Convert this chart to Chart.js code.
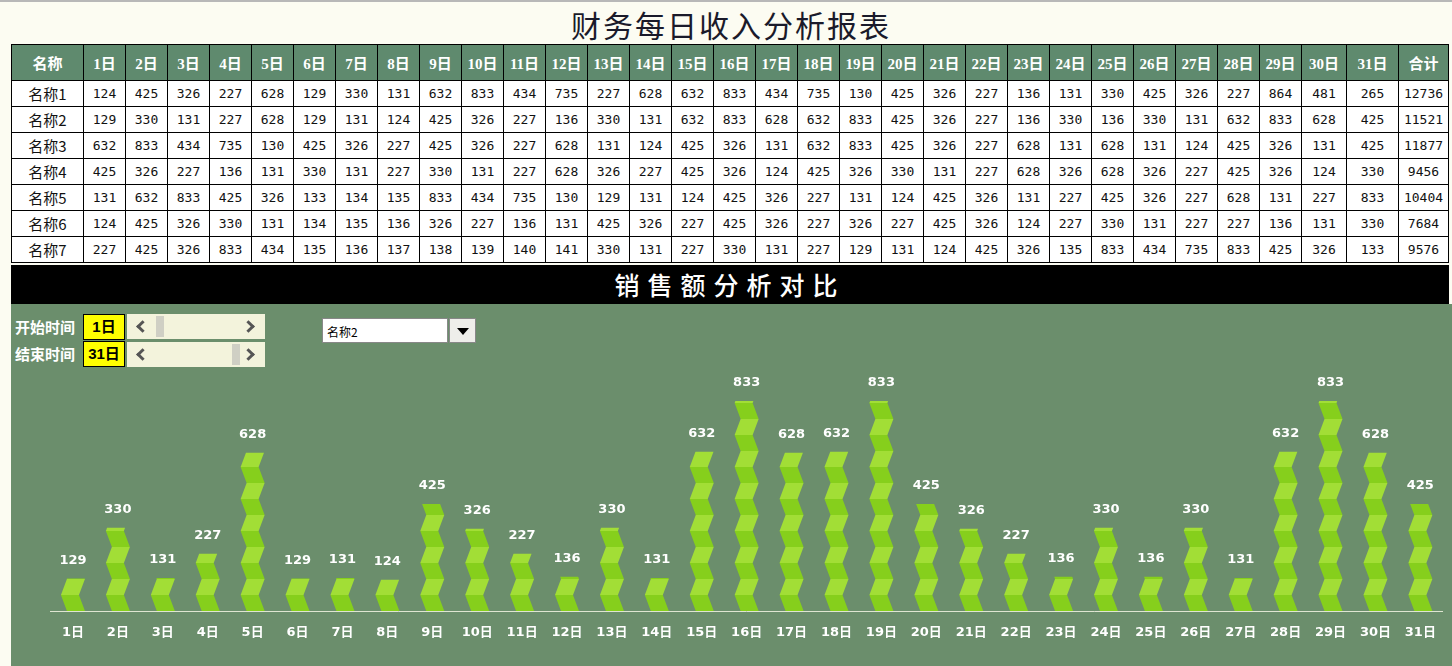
<!DOCTYPE html>
<html>
<head>
<meta charset="utf-8">
<script src="https://cdn.jsdelivr.net/npm/chart.js@4/dist/chart.umd.min.js"></script>
<style>
  body { margin: 0; width: 1452px; height: 666px; overflow: hidden; position: relative; background: #fcfcf2; }
  #topline { position: absolute; left: 0; top: 0; width: 1452px; height: 2px; background: #b8b8b8; }
  #title { position: absolute; left: 0; top: 2px; width: 1462px; text-align: center;
           font: 400 30px 'Noto Sans CJK SC'; color: #1a1a2a; letter-spacing: 2px; }
  table { position: absolute; left: 11px; top: 44px; border-collapse: collapse; table-layout: fixed; width: 1438px; }
  td, th { border: 1px solid #000; text-align: center; padding: 0; overflow: hidden; white-space: nowrap; }
  th { background: #5f8a6e; color: #fff; height: 35px; font: bold 15px 'Liberation Serif', 'Noto Sans CJK SC'; }
  td { background: #fff; height: 25px; font: 13px 'DejaVu Sans Mono', 'Noto Sans CJK SC'; color: #111; }
  td.nm { font: 15px 'Noto Sans CJK SC'; }
  #banner { position: absolute; left: 11px; top: 265px; width: 1438px; height: 39px; background: #000;
            color: #fff; text-align: center; font: 500 25px 'Noto Sans CJK SC'; line-height: 38px; letter-spacing: 8px; }
  #panel { position: absolute; left: 11px; top: 304px; width: 1441px; height: 362px; background: #6b8e6c; }
  .lbl { position: absolute; color: #fff; font: bold 15px 'Noto Sans CJK SC'; }
  .ybox { position: absolute; width: 40px; height: 24px; background: #ffff00; border: 1px solid #000;
          font: bold 15px 'Liberation Sans', 'Noto Sans CJK SC'; text-align: center; line-height: 24px; color: #000; }
  .scroll { position: absolute; width: 138px; height: 25px; background: #f3f3dc; }
  .scroll .l, .scroll .r { position: absolute; top: 8px; width: 6px; height: 6px; border-color: #555; border-style: solid; }
  .scroll .l { left: 11px; border-width: 0 0 3px 3px; transform: rotate(45deg); }
  .scroll .r { right: 12px; border-width: 3px 3px 0 0; transform: rotate(45deg); }
  .scroll .t { position: absolute; top: 2px; width: 8px; height: 21px; background: #cfcfc4; }
  #drop { position: absolute; left: 322px; top: 318px; width: 126px; height: 25px; background: #fff;
          border: 1px solid #888; font: 12px 'Noto Sans CJK SC'; line-height: 25px; padding-left: 4px; box-sizing: border-box; }
  #dbtn { position: absolute; left: 449px; top: 318px; width: 27px; height: 25px; background: #eeeeea; border: 1px solid #888; box-sizing: border-box; }
  #dbtn:after { content: ''; position: absolute; left: 7px; top: 9px; border-left: 6px solid transparent;
                border-right: 6px solid transparent; border-top: 7px solid #000; }
  #wrap { position: absolute; left: 11px; top: 304px; width: 1439px; height: 362px; }
</style>
</head>
<body>
<div id="topline"></div>
<div id="title">财务每日收入分析报表</div>
<table id="tbl"></table>
<div id="banner">销售额分析对比</div>
<div id="panel"></div>
<div class="lbl" style="left:15px;top:316px">开始时间</div>
<div class="lbl" style="left:15px;top:343px">结束时间</div>
<div class="ybox" style="left:83px;top:314px">1日</div>
<div class="ybox" style="left:83px;top:341px">31日</div>
<div class="scroll" style="left:127px;top:314px"><span class="l"></span><span class="t" style="left:29px"></span><span class="r"></span></div>
<div class="scroll" style="left:127px;top:342px"><span class="l"></span><span class="t" style="left:105px"></span><span class="r"></span></div>
<div id="drop">名称2</div>
<div id="dbtn"></div>
<div id="wrap"><canvas id="chart"></canvas></div>
<script>
const days = ['1日','2日','3日','4日','5日','6日','7日','8日','9日','10日','11日','12日','13日','14日','15日','16日',
  '17日','18日','19日','20日','21日','22日','23日','24日','25日','26日','27日','28日','29日','30日','31日'];
const names = ['名称1','名称2','名称3','名称4','名称5','名称6','名称7'];
const name1 = [124,425,326,227,628,129,330,131,632,833,434,735,227,628,632,833,434,735,130,425,326,227,136,131,330,425,326,227,864,481,265];
const name2 = [129,330,131,227,628,129,131,124,425,326,227,136,330,131,632,833,628,632,833,425,326,227,136,330,136,330,131,632,833,628,425];
const name3 = [632,833,434,735,130,425,326,227,425,326,227,628,131,124,425,326,131,632,833,425,326,227,628,131,628,131,124,425,326,131,425];
const name4 = [425,326,227,136,131,330,131,227,330,131,227,628,326,227,425,326,124,425,326,330,131,227,628,326,628,326,227,425,326,124,330];
const name5 = [131,632,833,425,326,133,134,135,833,434,735,130,129,131,124,425,326,227,131,124,425,326,131,227,425,326,227,628,131,227,833];
const name6 = [124,425,326,330,131,134,135,136,326,227,136,131,425,326,227,425,326,227,326,227,425,326,124,227,330,131,227,227,136,131,330];
const name7 = [227,425,326,833,434,135,136,137,138,139,140,141,330,131,227,330,131,227,129,131,124,425,326,135,833,434,735,833,425,326,133];
const totals = [12736,11521,11877,9456,10404,7684,9576];
const selected = name2;

// table
const rows = [name1, name2, name3, name4, name5, name6, name7];
let html = '<colgroup><col style="width:72px">';
days.forEach((d, i) => { html += '<col style="width:' + (i < 29 ? 42 : i == 29 ? 45 : 52) + 'px">'; });
html += '<col style="width:50px"></colgroup><tr><th>名称</th>';
days.forEach(d => { html += '<th>' + d + '</th>'; });
html += '<th>合计</th></tr>';
rows.forEach((r, i) => {
  html += '<tr><td class="nm">' + names[i] + '</td>';
  r.forEach(v => { html += '<td>' + v + '</td>'; });
  html += '<td>' + totals[i] + '</td></tr>';
});
document.getElementById('tbl').innerHTML = html;

// zigzag bars
const P = 32, A = 6;
const off = d => { const t = (d % P) / P; return A / 2 - A * (1 - Math.abs(2 * t - 1)); };
const zigzag = {
  id: 'zigzag',
  afterDatasetsDraw(chart) {
    const ctx = chart.ctx;
    chart.getDatasetMeta(0).data.forEach((bar, i) => {
      const h = bar.base - bar.y, w = bar.width, cx = bar.x, yb = bar.base;
      for (let d0 = 0, k = 0; d0 < h; d0 += P / 2, k++) {
        const d1 = Math.min(d0 + P / 2, h);
        const o0 = off(d0), o1 = (d1 == d0 + P / 2) ? (k % 2 == 0 ? -A / 2 : A / 2) : off(d1);
        ctx.beginPath();
        ctx.moveTo(cx - w / 2 + o0, yb - d0);
        ctx.lineTo(cx + w / 2 + o0, yb - d0);
        ctx.lineTo(cx + w / 2 + o1, yb - d1);
        ctx.lineTo(cx - w / 2 + o1, yb - d1);
        ctx.closePath();
        ctx.fillStyle = k % 2 == 0 ? '#86cf1c' : '#a2de36';
        ctx.fill();
      }
      ctx.fillStyle = '#fff';
      ctx.font = 'bold 13px "DejaVu Sans"';
      ctx.textAlign = 'center';
      ctx.textBaseline = 'middle';
      ctx.fillText(selected[i], cx, bar.y - 18);
    });
  }
};

new Chart(document.getElementById('chart'), {
  type: 'bar',
  data: {
    labels: days,
    datasets: [{ data: selected, backgroundColor: 'rgba(0,0,0,0)', barThickness: 18 }]
  },
  options: {
    responsive: true,
    maintainAspectRatio: false,
    animation: false,
    layout: { padding: { top: 55, left: 39.5, right: 6.6, bottom: 0 } },
    plugins: { legend: { display: false }, tooltip: { enabled: false } },
    scales: {
      x: {
        grid: { display: false, drawTicks: false },
        border: { color: '#dfe5d2', width: 1 },
        ticks: { color: '#fff', padding: 14, font: { family: "'DejaVu Sans', 'Noto Sans CJK SC'", size: 13, weight: 'bold' } },
        afterFit: s => { s.height = 55; }
      },
      y: { display: false, min: 0, max: 1000 }
    }
  },
  plugins: [zigzag]
});
</script>
</body>
</html>
